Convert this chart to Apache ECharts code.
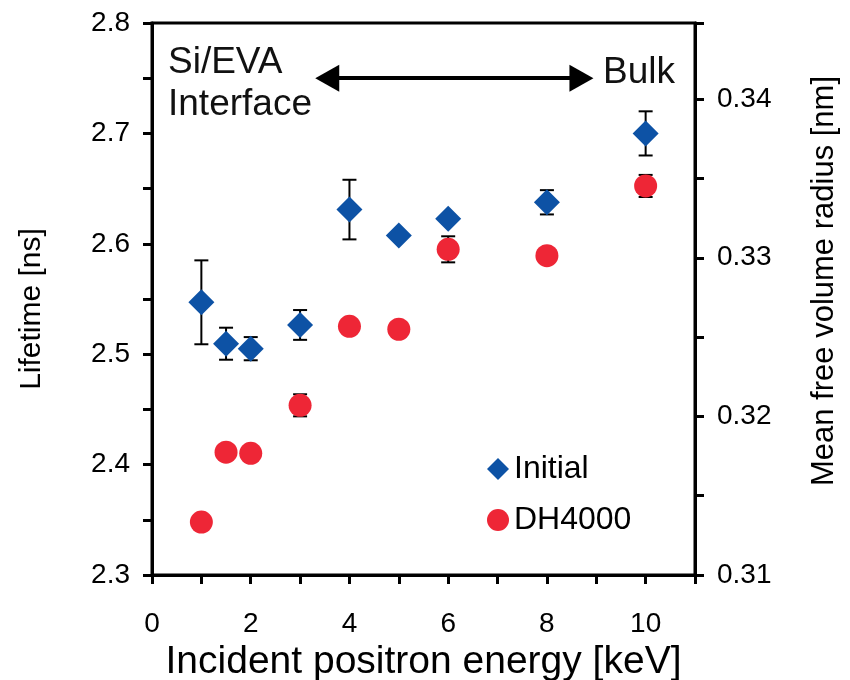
<!DOCTYPE html>
<html>
<head>
<meta charset="utf-8">
<script src="https://cdn.jsdelivr.net/npm/echarts@6/dist/echarts.min.js"></script>
<style>html,body{margin:0;padding:0;background:#fff;}#c{width:850px;height:680px;}</style>
</head>
<body>
<div id="c"></div>
<script>
// Data
const energies = [1, 1.5, 2, 3, 4, 5, 6, 8, 10];
const initialLifetime = [2.547, 2.5095, 2.505, 2.5265, 2.631, 2.6075, 2.6227, 2.6376, 2.700];
const initialErr = [0.038, 0.0145, 0.0105, 0.0135, 0.027, 0.004, 0.004, 0.011, 0.020];
const dhLifetime = [2.348, 2.4112, 2.4102, 2.4537, 2.5253, 2.5226, 2.595, 2.5892, 2.6524];
const dhErr = [0.003, 0.003, 0.003, 0.010, 0.003, 0.003, 0.0118, 0.003, 0.010];
const xTicks = [0, 2, 4, 6, 8, 10];
const leftTicks = [2.3, 2.4, 2.5, 2.6, 2.7, 2.8];
const rightTicks = [0.31, 0.32, 0.33, 0.34];
const seriesNames = ['Initial', 'DH4000'];

const FONT = '"Liberation Sans", Arial, Helvetica, sans-serif';
const BLUE = '#0d52a5';
const RED = '#ee2636';

function errData(vals, errs) {
  return energies.map((e, i) => [e, vals[i] - errs[i], vals[i] + errs[i]]);
}
function errRender(params, api) {
  const x = api.value(0);
  const lo = api.coord([x, api.value(1)]);
  const hi = api.coord([x, api.value(2)]);
  const cap = 7;
  const style = { stroke: '#000', lineWidth: 2 };
  return {
    type: 'group',
    children: [
      { type: 'line', shape: { x1: lo[0], y1: lo[1], x2: hi[0], y2: hi[1] }, style },
      { type: 'line', shape: { x1: lo[0] - cap, y1: lo[1], x2: lo[0] + cap, y2: lo[1] }, style },
      { type: 'line', shape: { x1: hi[0] - cap, y1: hi[1], x2: hi[0] + cap, y2: hi[1] }, style }
    ]
  };
}

const mkLine = () => ({ show: true, onZero: false, lineStyle: { color: '#000', width: 3 } });
const mkTick = () => ({ show: true, inside: false, length: 9, lineStyle: { color: '#000', width: 3 } });
const mkMinor = () => ({ show: true, splitNumber: 2, length: 9, lineStyle: { color: '#000', width: 3 } });
const mkLabel = (margin, fmt) => ({ color: '#000', fontSize: 28, fontFamily: FONT, margin, formatter: fmt });
const gridBox = { left: 152, right: 155, top: 23, bottom: 105, outerBoundsMode: 'none', containLabel: false };

const chart = echarts.init(document.getElementById('c'), null, { renderer: 'canvas' });
chart.setOption({
  backgroundColor: '#fff',
  animation: false,
  grid: [
    Object.assign({ show: true, borderColor: '#000', borderWidth: 3, backgroundColor: 'transparent' }, gridBox),
    Object.assign({}, gridBox)
  ],
  legend: {
    orient: 'vertical',
    left: 482, top: 448,
    itemWidth: 22, itemHeight: 22, itemGap: 19,
    textStyle: { color: '#000', fontSize: 32, fontFamily: FONT },
    data: [
      { name: seriesNames[0], icon: 'diamond' },
      { name: seriesNames[1], icon: 'circle' }
    ]
  },
  xAxis: [{
    gridIndex: 0,
    type: 'value', min: 0, max: 11, interval: 1,
    axisLine: mkLine(), axisTick: mkTick(),
    splitLine: { show: false },
    axisLabel: mkLabel(35, v => xTicks.includes(v) ? String(v) : ''),
    name: 'Incident positron energy [keV]', nameLocation: 'middle', nameGap: 62,
    nameTextStyle: { color: '#000', fontSize: 39, fontFamily: FONT }
  }, {
    gridIndex: 1, show: false,
    type: 'value', min: 0, max: 11
  }],
  yAxis: [{
    gridIndex: 0,
    type: 'value', min: 2.3, max: 2.8, interval: 0.1,
    axisLine: mkLine(), axisTick: mkTick(), minorTick: mkMinor(),
    splitLine: { show: false },
    axisLabel: mkLabel(22, v => { const t = leftTicks.find(k => Math.abs(k - v) < 1e-6); return t !== undefined ? t.toFixed(1) : ''; }),
    name: 'Lifetime [ns]', nameLocation: 'middle', nameGap: 105, nameRotate: 90,
    nameTextStyle: { color: '#000', fontSize: 30, fontFamily: FONT, padding: [0, 20, 0, 0] }
  }, {
    gridIndex: 1,
    type: 'value', min: 0.31, max: 0.3448, interval: 0.01, position: 'right',
    axisLine: mkLine(), axisTick: mkTick(), minorTick: mkMinor(),
    splitLine: { show: false },
    axisLabel: mkLabel(22, v => { const t = rightTicks.find(k => Math.abs(k - v) < 1e-6); return t !== undefined ? t.toFixed(2) : ''; }),
    name: 'Mean free volume radius [nm]', nameLocation: 'middle', nameGap: 114, nameRotate: 90,
    nameTextStyle: { color: '#000', fontSize: 31, fontFamily: FONT, padding: [0, 0, 0, 36] }
  }],
  graphic: [
    { type: 'text', left: 168, top: 42, style: { text: 'Si/EVA\nInterface', fill: '#111', fontSize: 37, lineHeight: 42, fontFamily: FONT } },
    { type: 'text', left: 603, top: 54, style: { text: 'Bulk', fill: '#111', fontSize: 37, fontFamily: FONT } }
  ],
  series: [
    {
      type: 'custom', name: 'errInitial', renderItem: errRender,
      data: errData(initialLifetime, initialErr), z: 2, silent: true,
      encode: { x: 0, y: [1, 2] }
    },
    {
      type: 'custom', name: 'errDH', renderItem: errRender,
      data: errData(dhLifetime, dhErr), z: 2, silent: true,
      encode: { x: 0, y: [1, 2] }
    },
    {
      type: 'scatter', name: seriesNames[0], symbol: 'diamond', symbolSize: 26,
      itemStyle: { color: BLUE, opacity: 1 }, z: 5,
      data: energies.map((e, i) => [e, initialLifetime[i]]),
      markLine: {
        silent: true, symbol: ['triangle', 'triangle'], symbolSize: [27, 24],
        lineStyle: { color: '#000', width: 4, type: 'solid' },
        label: { show: false },
        data: [[{ coord: [3.55, 2.75] }, { coord: [8.7, 2.75] }]]
      }
    },
    {
      type: 'scatter', name: seriesNames[1], symbol: 'circle', symbolSize: 23,
      itemStyle: { color: RED, opacity: 1 }, z: 4,
      data: energies.map((e, i) => [e, dhLifetime[i]])
    }
  ]
});
</script>
</body>
</html>
